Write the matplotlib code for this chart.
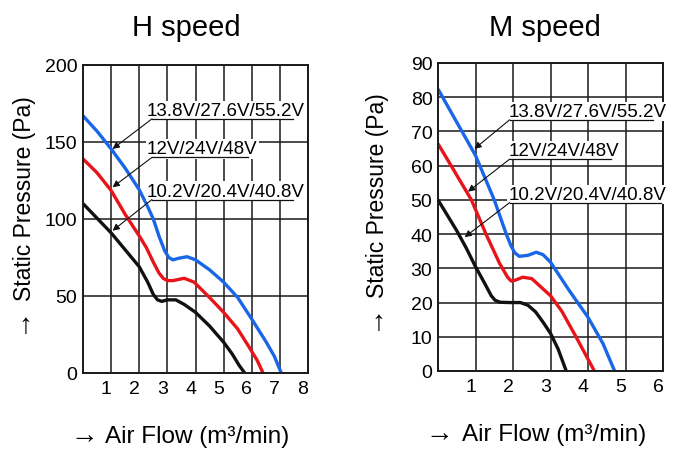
import matplotlib
matplotlib.use('Agg')
import matplotlib.pyplot as plt
from matplotlib.transforms import ScaledTranslation

plt.rcParams['font.family'] = ['Liberation Sans', 'DejaVu Sans']

# ---- H speed (Pa vs m3/min) ----
h_blue_x = [0, 0.5, 1.0, 1.5, 2.0, 2.3, 2.5, 2.7, 2.9, 3.05, 3.2, 3.4, 3.7, 4.0, 4.5, 5.0, 5.5, 6.0, 6.5, 6.8, 7.05]
h_blue_y = [167, 157, 145.5, 133, 119, 108, 100, 89, 79.5, 75, 73.5, 74.5, 75.5, 73.5, 67, 59, 49, 35, 20.5, 11, 0]
h_red_x = [0, 0.5, 1.0, 1.5, 2.0, 2.25, 2.5, 2.7, 2.85, 3.0, 3.2, 3.6, 3.95, 4.5, 5.0, 5.5, 5.9, 6.2, 6.4]
h_red_y = [139, 130, 118.5, 103, 89, 81.5, 72, 65, 61.5, 60, 60, 61.5, 59, 49, 39.4, 28.6, 17, 8, 0]
h_blk_x = [0, 0.5, 1.0, 1.5, 2.0, 2.3, 2.5, 2.65, 2.8, 3.0, 3.3, 3.6, 4.0, 4.5, 5.0, 5.3, 5.55, 5.75]
h_blk_y = [110, 100.5, 91, 80, 69, 59, 51, 47.5, 46.5, 47.5, 47.5, 44.5, 39.4, 30.5, 20, 12.5, 5, 0]

# ---- M speed ----
m_blue_x = [0, 0.5, 1.0, 1.5, 1.82, 1.95, 2.05, 2.17, 2.4, 2.62, 2.8, 3.0, 3.5, 4.0, 4.4, 4.71]
m_blue_y = [82.4, 72.7, 63, 50, 40, 36.5, 34.5, 33.5, 33.8, 34.7, 34, 31.8, 23.5, 15.7, 8, 0]
m_red_x = [0, 0.35, 0.89, 1.28, 1.64, 1.85, 1.95, 2.05, 2.26, 2.5, 2.7, 3.0, 3.3, 3.69, 3.9, 4.17]
m_red_y = [66.4, 60, 50, 40, 31.5, 27.5, 26.3, 26.5, 27.4, 27, 25, 22, 17.5, 9.8, 5.5, 0]
m_blk_x = [0, 0.25, 0.5, 0.75, 1.0, 1.25, 1.42, 1.52, 1.65, 1.9, 2.2, 2.4, 2.6, 2.8, 3.0, 3.2, 3.42]
m_blk_y = [50, 45.5, 41, 36, 30.5, 25.5, 22, 20.7, 20.1, 20, 20, 19.2, 17.3, 14.3, 11, 6.5, 0]

labels = ['13.8V/27.6V/55.2V', '12V/24V/48V', '10.2V/20.4V/40.8V']
colors = ['#1a66e8', '#e8141a', '#111111']

# label underline: (x start, x end, y), arrow target on curve
h_lines = [(2.45, 7.47, 165), (2.45, 5.87, 140), (2.45, 7.47, 112.6)]
h_targets = [(1.05, 145.5), (1.05, 120.6), (1.05, 92.4)]
m_lines = [(1.91, 5.73, 73.4), (1.91, 4.62, 61.9), (1.91, 5.95, 49.2)]
m_targets = [(0.97, 64.9), (0.8, 52.4), (0.71, 39.1)]

h_xticks = [1, 2, 3, 4, 5, 6, 7, 8]
h_yticks = [0, 50, 100, 150, 200]
m_xticks = [1, 2, 3, 4, 5, 6]
m_yticks = [0, 10, 20, 30, 40, 50, 60, 70, 80, 90]

W, H = 689, 460
fig = plt.figure(figsize=(W / 100, H / 100), dpi=100)
axH = fig.add_axes([83 / W, 1 - 374 / H, 225 / W, 308 / H])
axM = fig.add_axes([438 / W, 1 - 372 / H, 225 / W, 308 / H])


def setup(ax, xticks, yticks):
    ax.set_xlim(0, xticks[-1])
    ax.set_ylim(0, yticks[-1])
    ax.set_xticks(xticks)
    ax.set_yticks(yticks)
    ax.grid(True, color='#1a1a1a', lw=1.1)
    ax.set_axisbelow(True)
    ax.tick_params(length=0, labelsize=14)
    ax.tick_params(axis='x', pad=5)
    ax.tick_params(axis='y', pad=4)
    for s in ax.spines.values():
        s.set_linewidth(1.4)
        s.set_color('#1a1a1a')
    # tick digits sit a little left of their grid lines in the original
    shift = ScaledTranslation(-5 / 100, 0, fig.dpi_scale_trans)
    for lab in ax.get_xticklabels():
        lab.set_transform(lab.get_transform() + shift)


def annotate(ax, lines, targets, tx_off):
    for lab, (x0, x1, y), (tx, ty) in zip(labels, lines, targets):
        ax.text(x0 - tx_off, y, lab, ha='left', va='bottom', fontsize=13.5,
                family=['Liberation Sans Narrow', 'Liberation Sans'],
                bbox=dict(facecolor='white', edgecolor='none', pad=0.8), zorder=3)
        ax.plot([x0, x1], [y, y], color='#111111', lw=0.9, zorder=4)
        ax.annotate('', xy=(tx, ty), xytext=(x0, y),
                    arrowprops=dict(arrowstyle='-|>', color='#111111', lw=0.8,
                                    shrinkA=0, shrinkB=0, mutation_scale=10),
                    zorder=4)


setup(axH, h_xticks, h_yticks)
setup(axM, m_xticks, m_yticks)

for xs, ys, c in zip([h_blue_x, h_red_x, h_blk_x], [h_blue_y, h_red_y, h_blk_y], colors):
    axH.plot(xs, ys, color=c, lw=2.4, solid_joinstyle='round', solid_capstyle='butt', zorder=2)
for xs, ys, c in zip([m_blue_x, m_red_x, m_blk_x], [m_blue_y, m_red_y, m_blk_y], colors):
    axM.plot(xs, ys, color=c, lw=2.4, solid_joinstyle='round', solid_capstyle='butt', zorder=2)

annotate(axH, h_lines, h_targets, 0.17)
annotate(axM, m_lines, m_targets, 0.03)


def px(x, y):
    return x / W, 1 - y / H


fig.text(*px(186, 36), 'H speed', ha='center', va='baseline', fontsize=21)
fig.text(*px(545, 36), 'M speed', ha='center', va='baseline', fontsize=21)

# y labels: arrow + text
fig.text(*px(25, 326), '↑', ha='center', va='center', fontsize=20)
fig.text(*px(25, 301), 'Static Pressure (Pa)', ha='center', va='bottom',
         rotation=90, fontsize=16.5)
fig.text(*px(378, 323), '↑', ha='center', va='center', fontsize=20)
fig.text(*px(378, 298), 'Static Pressure (Pa)', ha='center', va='bottom',
         rotation=90, fontsize=16.5)

# x labels
fig.text(*px(84, 436), '→', ha='center', va='center', fontsize=20)
fig.text(*px(105, 443), 'Air Flow (m³/min)', ha='left', va='baseline', fontsize=17.5)
fig.text(*px(439, 434), '→', ha='center', va='center', fontsize=20)
fig.text(*px(462, 441), 'Air Flow (m³/min)', ha='left', va='baseline', fontsize=17.5)

fig.savefig('out.png', dpi=100)
